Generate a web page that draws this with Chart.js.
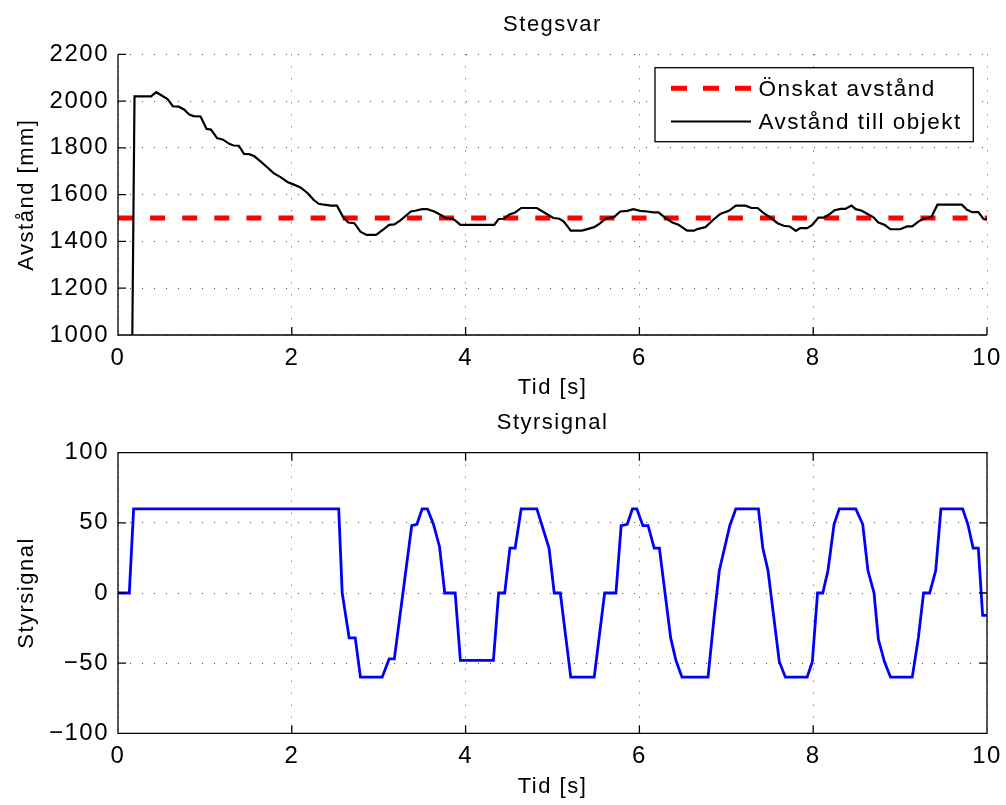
<!DOCTYPE html>
<html>
<head>
<meta charset="utf-8">
<title>Stegsvar</title>
<script src="https://cdn.jsdelivr.net/npm/chart.js@4"></script>
<style>
  body { margin: 0; background: #fff; }
  #wrap { position: relative; width: 1006px; height: 805px; }
  canvas { position: absolute; left: 0; }
  #stegsvar { top: 0; }
  #styrsignal { top: 402px; }
</style>
</head>
<body>
<div id="wrap">
  <canvas id="stegsvar" width="1006" height="402"></canvas>
  <canvas id="styrsignal" width="1006" height="403"></canvas>
</div>
<script>
// tick labels
const tidTicks = [0, 2, 4, 6, 8, 10];
const avstandTicks = [1000, 1200, 1400, 1600, 1800, 2000, 2200];
const styrTicks = [-100, -50, 0, 50, 100];

// reference distance
const onskatTid = [0, 10];
const onskatAvstand = [1500, 1500];

// measured distance [mm]
const avstandTid = [
  0, 0.14, 0.19, 0.38, 0.44, 0.57, 0.63, 0.70, 0.76, 0.82, 0.87, 0.95,
  1.02, 1.07, 1.14, 1.21, 1.28, 1.33, 1.39, 1.45, 1.51, 1.57, 1.64, 1.72,
  1.79, 1.87, 1.95, 2.01, 2.10, 2.18, 2.25, 2.31, 2.37, 2.45, 2.52, 2.59,
  2.65, 2.72, 2.79, 2.86, 2.97, 3.05, 3.12, 3.18, 3.25, 3.37, 3.42, 3.50,
  3.56, 3.64, 3.71, 3.77, 3.85, 3.88, 3.94, 4.02, 4.33, 4.38, 4.44, 4.50,
  4.57, 4.64, 4.82, 4.90, 5.01, 5.08, 5.13, 5.21, 5.34, 5.48, 5.55, 5.61,
  5.71, 5.78, 5.86, 5.93, 6.01, 6.09, 6.16, 6.22, 6.30, 6.38, 6.45, 6.55,
  6.63, 6.66, 6.76, 6.86, 6.93, 7.03, 7.11, 7.22, 7.29, 7.36, 7.43, 7.51,
  7.59, 7.66, 7.73, 7.80, 7.85, 7.93, 7.99, 8.06, 8.12, 8.18, 8.24, 8.31,
  8.37, 8.44, 8.49, 8.56, 8.64, 8.69, 8.75, 8.82, 8.89, 9.00, 9.08, 9.14,
  9.21, 9.27, 9.36, 9.43, 9.71, 9.77, 9.83, 9.90, 9.96, 10.0
];
const avstand = [
  0, 0, 2020, 2020, 2038, 2009, 1978, 1976, 1964, 1942, 1936, 1934,
  1881, 1878, 1842, 1835, 1817, 1810, 1809, 1774, 1773, 1764, 1742, 1716,
  1692, 1675, 1654, 1645, 1631, 1607, 1578, 1561, 1557, 1553, 1553, 1504,
  1481, 1478, 1442, 1428, 1428, 1450, 1471, 1473, 1490, 1528, 1531, 1538,
  1538, 1528, 1514, 1500, 1497, 1490, 1471, 1471, 1471, 1496, 1497, 1514,
  1524, 1543, 1543, 1525, 1500, 1497, 1485, 1446, 1446, 1461, 1478, 1497,
  1505, 1528, 1531, 1538, 1531, 1528, 1524, 1524, 1500, 1481, 1471, 1446,
  1446, 1452, 1461, 1496, 1517, 1531, 1553, 1553, 1543, 1543, 1521, 1502,
  1478, 1467, 1464, 1445, 1457, 1457, 1471, 1502, 1502, 1514, 1532, 1539,
  1539, 1553, 1538, 1531, 1514, 1504, 1481, 1471, 1452, 1452, 1464, 1464,
  1485, 1497, 1504, 1557, 1557, 1535, 1525, 1525, 1496, 1494
];

// control signal
const styrTid = [
  0, 0.13, 0.18, 2.54, 2.58, 2.66, 2.73, 2.79, 3.04, 3.12, 3.18, 3.38,
  3.44, 3.50, 3.56, 3.63, 3.70, 3.76, 3.88, 3.94, 4.32, 4.38, 4.45, 4.51,
  4.57, 4.64, 4.82, 4.96, 5.02, 5.09, 5.21, 5.48, 5.60, 5.73, 5.79, 5.86,
  5.92, 5.97, 6.04, 6.10, 6.17, 6.23, 6.36, 6.42, 6.49, 6.79, 6.86, 6.92,
  7.04, 7.11, 7.37, 7.42, 7.48, 7.61, 7.68, 7.93, 7.99, 8.05, 8.11, 8.17,
  8.24, 8.30, 8.49, 8.57, 8.63, 8.70, 8.75, 8.82, 8.89, 9.14, 9.21, 9.27,
  9.34, 9.41, 9.47, 9.72, 9.78, 9.84, 9.90, 9.95, 10.0
];
const styrsignal = [
  0, 0, 60, 60, 0, -32, -32, -60, -60, -47, -47, 48,
  49, 60, 60, 49, 33, 0, 0, -48, -48, 0, 0, 32,
  32, 60, 60, 32, 0, 0, -60, -60, 0, 0, 48, 49,
  60, 60, 48, 48, 32, 32, -32, -48, -60, -60, -17, 16,
  48, 60, 60, 32, 16, -49, -60, -60, -49, 0, 0, 16,
  49, 60, 60, 49, 16, 0, -33, -49, -60, -60, -32, 0,
  0, 16, 60, 60, 49, 32, 32, -16, -16
];

const FONT = '"Liberation Sans", Arial, Helvetica, sans-serif';
Chart.defaults.font.family = FONT;
Chart.defaults.color = '#000';

const gridColor = 'rgba(0,0,0,0.7)';

const toPoints = (xs, ys) => xs.map((x, i) => ({ x: x, y: ys[i] }));
const minus = v => String(v).replace('-', '\u2212');

// matlab-like axes: inward ticks, optional box
const matlabAxes = {
  id: 'matlabAxes',
  beforeDraw(chart) {
    chart.ctx.letterSpacing = '1.5px';
  },
  afterDatasetsDraw(chart, args, opts) {
    const { ctx, chartArea: a } = chart;
    const x = chart.scales.x;
    const y = chart.scales.y;
    const len = 8;
    ctx.save();
    ctx.strokeStyle = '#000';
    ctx.lineWidth = 1.3;
    ctx.beginPath();
    ctx.moveTo(a.left, a.top);
    ctx.lineTo(a.left, a.bottom);
    ctx.lineTo(a.right, a.bottom);
    if (opts.box) {
      ctx.lineTo(a.right, a.top);
      ctx.closePath();
    }
    x.ticks.forEach(t => {
      const px = x.getPixelForValue(t.value);
      ctx.moveTo(px, a.bottom);
      ctx.lineTo(px, a.bottom - len);
      if (opts.box) {
        ctx.moveTo(px, a.top);
        ctx.lineTo(px, a.top + len);
      }
    });
    y.ticks.forEach(t => {
      const py = y.getPixelForValue(t.value);
      ctx.moveTo(a.left, py);
      ctx.lineTo(a.left + len, py);
      if (opts.box) {
        ctx.moveTo(a.right, py);
        ctx.lineTo(a.right - len, py);
      }
    });
    ctx.stroke();
    ctx.restore();
  }
};

// legend box inside the upper plot
const boxLegend = {
  id: 'boxLegend',
  afterDraw(chart) {
    const { ctx, chartArea: a } = chart;
    const ds = chart.data.datasets;
    const bx = a.left + a.width - 332;
    const by = a.top + 13.4;
    ctx.save();
    ctx.fillStyle = '#fff';
    ctx.fillRect(bx, by, 318.3, 74);
    ctx.strokeStyle = '#000';
    ctx.lineWidth = 1.3;
    ctx.strokeRect(bx, by, 318.3, 74);
    const rows = [by + 20.6, by + 53.8];
    ctx.font = '22.5px ' + FONT;
    ctx.textBaseline = 'middle';
    ctx.textAlign = 'left';
    ds.forEach((d, i) => {
      ctx.beginPath();
      ctx.strokeStyle = d.borderColor;
      ctx.lineWidth = d.borderWidth;
      ctx.setLineDash(d.legendDash || []);
      ctx.moveTo(bx + 16, rows[i]);
      ctx.lineTo(bx + 96, rows[i]);
      ctx.stroke();
      ctx.setLineDash([]);
      ctx.fillStyle = '#000';
      ctx.fillText(d.label, bx + 103.5, rows[i] + 1);
    });
    ctx.restore();
  }
};

function tidScale(height, titlePad) {
  return {
    type: 'linear',
    min: 0,
    max: 10,
    afterBuildTicks: s => { s.ticks = tidTicks.map(v => ({ value: v })); },
    afterFit: s => { s.height = height; s.paddingLeft = 0; s.paddingRight = 0; },
    grid: { color: gridColor, lineWidth: 1, drawTicks: false },
    border: { display: false, dash: [1, 11] },
    ticks: { padding: 9, font: { size: 24 }, color: '#000', maxRotation: 0, callback: v => minus(v) },
    title: { display: true, text: 'Tid [s]', font: { size: 22 }, color: '#000', padding: { top: 0, bottom: titlePad } }
  };
}

// empty top axis, only carries the plot title centred over the plot area
function titleScale(text, height, padTop) {
  return {
    type: 'linear',
    position: 'top',
    min: 0,
    max: 10,
    afterFit: s => { s.height = height; s.paddingLeft = 0; s.paddingRight = 0; },
    ticks: { display: false },
    grid: { display: false, drawTicks: false },
    border: { display: false },
    title: { display: true, text: text, font: { size: 22 }, color: '#000', padding: { top: padTop, bottom: 0 } }
  };
}

function valueScale(min, max, ticks, label) {
  return {
    type: 'linear',
    min: min,
    max: max,
    afterBuildTicks: s => { s.ticks = ticks.map(v => ({ value: v })); },
    afterFit: s => { s.width = 118; s.paddingTop = 0; s.paddingBottom = 0; },
    grid: { color: gridColor, lineWidth: 1, drawTicks: false },
    border: { display: false, dash: [1, 11] },
    ticks: { padding: 9, font: { size: 24 }, color: '#000', callback: v => minus(v) },
    title: { display: true, text: label, font: { size: 22 }, color: '#000', padding: { top: 13.8, bottom: 0 } }
  };
}

new Chart(document.getElementById('stegsvar'), {
  type: 'line',
  data: {
    datasets: [
      {
        label: 'Önskat avstånd',
        data: toPoints(onskatTid, onskatAvstand),
        borderColor: '#ff0000',
        borderWidth: 5,
        borderDash: [15, 17.1],
        legendDash: [16, 16],
        pointRadius: 0,
        order: 1
      },
      {
        label: 'Avstånd till objekt',
        data: toPoints(avstandTid, avstand),
        borderColor: '#000000',
        borderWidth: 2.2,
        pointRadius: 0,
        order: 0
      }
    ]
  },
  options: {
    responsive: false,
    devicePixelRatio: 1,
    animation: false,
    events: [],
    layout: { padding: { left: 0, right: 19, top: 0, bottom: 0 } },
    elements: { line: { tension: 0, fill: false } },
    scales: {
      x: tidScale(67, 0.8),
      y: valueScale(1000, 2200, avstandTicks, 'Avstånd [mm]'),
      xTitle: titleScale('Stegsvar', 54.3, 11.8)
    },
    plugins: {
      legend: { display: false },
      tooltip: { enabled: false },
      matlabAxes: { box: false }
    }
  },
  plugins: [matlabAxes, boxLegend]
});

new Chart(document.getElementById('styrsignal'), {
  type: 'line',
  data: {
    datasets: [
      {
        label: 'Styrsignal',
        data: toPoints(styrTid, styrsignal),
        borderColor: '#0000ff',
        borderWidth: 2.8,
        pointRadius: 0
      }
    ]
  },
  options: {
    responsive: false,
    devicePixelRatio: 1,
    animation: false,
    events: [],
    layout: { padding: { left: 0, right: 19, top: 0, bottom: 0 } },
    elements: { line: { tension: 0, fill: false } },
    scales: {
      x: tidScale(71.7, 5.3),
      y: valueScale(-100, 100, styrTicks, 'Styrsignal'),
      xTitle: titleScale('Styrsignal', 50.7, 7.8)
    },
    plugins: {
      legend: { display: false },
      tooltip: { enabled: false },
      matlabAxes: { box: true }
    }
  },
  plugins: [matlabAxes]
});
</script>
</body>
</html>
